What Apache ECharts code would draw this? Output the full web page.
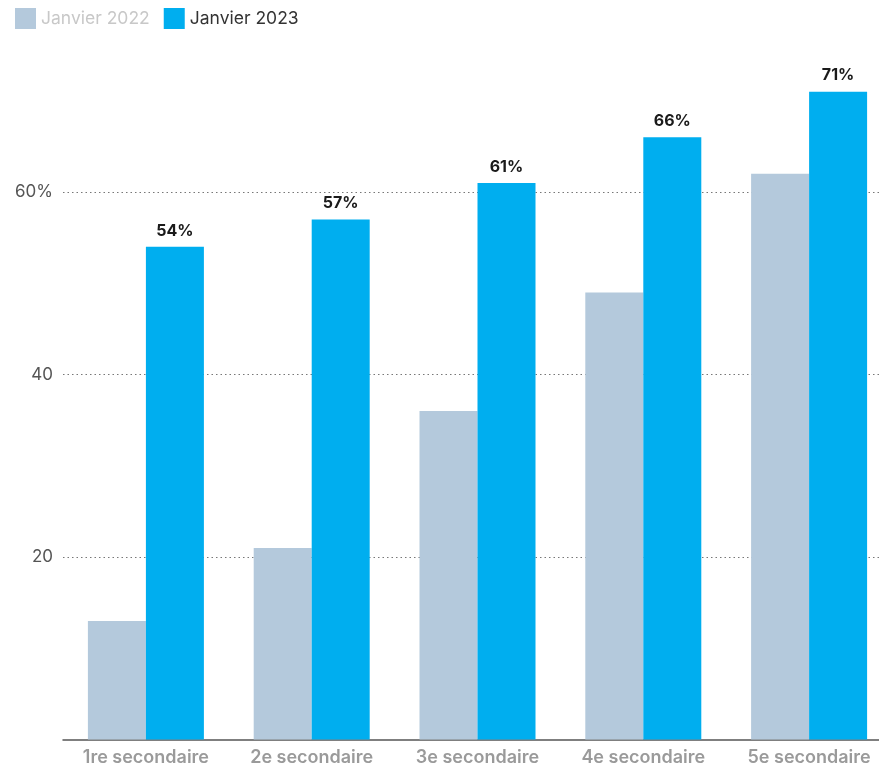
<!DOCTYPE html>
<html>
<head>
<meta charset="utf-8">
<script src="https://cdn.jsdelivr.net/npm/echarts@6/dist/echarts.min.js"></script>
<style>html,body{margin:0;padding:0;background:#fff}#c{width:879px;height:767px}</style>
</head>
<body>
<div id="c"></div>
<script>
const categories = ['1re secondaire', '2e secondaire', '3e secondaire', '4e secondaire', '5e secondaire'];
const values2022 = [13, 21, 36, 49, 62];
const values2023 = [54, 57, 61, 66, 71];
const yTicks = [20, 40, 60];

const chart = echarts.init(document.getElementById('c'));
chart.setOption({
  animation: false,
  textStyle: { fontFamily: 'Inter' },
  legend: {
    left: 10, top: 3,
    itemWidth: 21, itemHeight: 21, itemGap: 14,
    icon: 'rect',
    textStyle: { fontSize: 17.5, fontFamily: 'Inter' },
    data: [
      { name: 'Janvier 2022', textStyle: { color: '#c8c8c8' } },
      { name: 'Janvier 2023', textStyle: { color: '#333' } }
    ]
  },
  grid: { left: 63, width: 829, top: 9.5, bottom: 27.5, containLabel: false, outerBoundsMode: 'none' },
  xAxis: {
    type: 'category',
    data: categories,
    axisTick: { show: false },
    axisLine: { lineStyle: { color: '#555', width: 1.5 } },
    axisLabel: { color: '#9a9a9a', fontSize: 18, fontWeight: 600, margin: 9, fontFamily: 'Inter', interval: 0, hideOverlap: false }
  },
  yAxis: {
    type: 'value',
    min: 0, max: 80, interval: 20,
    axisLine: { show: false },
    axisTick: { show: false },
    axisLabel: {
      color: '#555', fontSize: 17, margin: 10, fontFamily: 'Inter',
      formatter: function (v) {
        if (yTicks.indexOf(v) < 0) return '';
        return v === 60 ? v + '%' : String(v);
      }
    },
    splitLine: {
      showMinLine: false, showMaxLine: false,
      lineStyle: { color: '#777', type: [1.5, 3], width: 1 }
    }
  },
  series: [
    {
      name: 'Janvier 2022', type: 'bar', data: values2022,
      barWidth: 58, barGap: '0%',
      itemStyle: { color: '#b4c9dc' }
    },
    {
      name: 'Janvier 2023', type: 'bar', data: values2023,
      barWidth: 58,
      itemStyle: { color: '#00aeef' },
      label: {
        show: true, position: 'top', distance: 8,
        formatter: '{c}%', color: '#1a1a1a', fontSize: 16, fontWeight: 'bold', fontFamily: 'Inter'
      }
    }
  ]
});
</script>
</body>
</html>
